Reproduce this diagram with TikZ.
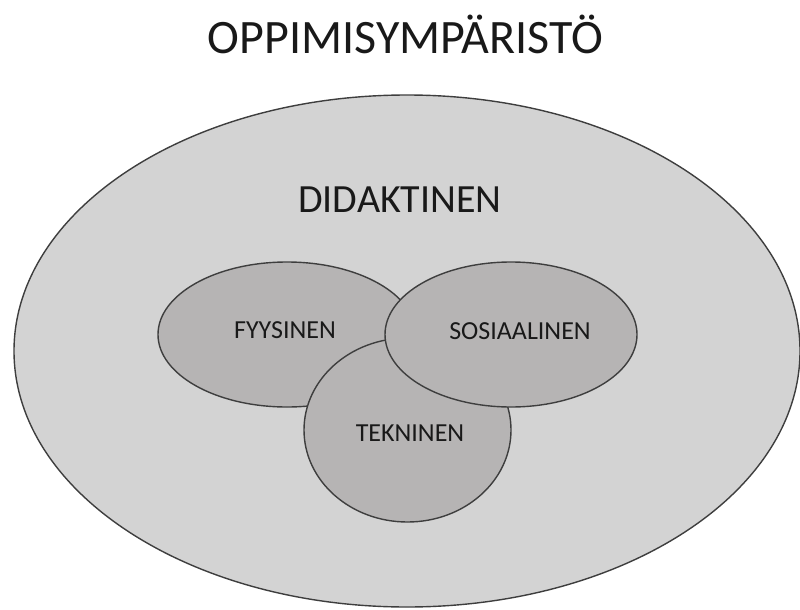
\documentclass[tikz,border=0pt]{standalone}
\usepackage{fontspec}
\setmainfont{Carlito}
\usetikzlibrary{shapes.geometric}
\definecolor{outerfill}{RGB}{211,211,211}
\definecolor{innerfill}{RGB}{182,180,180}
\definecolor{rim}{RGB}{62,62,62}

\begin{document}
\begin{tikzpicture}[x=1pt, y=-1pt,
        area/.style={ellipse, draw=rim, line width=1.4pt, inner sep=0pt},
        whole/.style={area, fill=outerfill},
        part/.style={area, fill=innerfill},
        tag/.style={inner sep=0pt, anchor=base, text=black!90}
    ]
        \useasboundingbox (0,0) rectangle (800,610);

        % Areas
        \node[whole, minimum width=786pt, minimum height=512pt] (didaktinen) at (407,351) {};
        \node[part, minimum width=258pt, minimum height=145pt] (fyysinen) at (287,334.5) {};
        \node[part, minimum width=207pt, minimum height=184pt] (tekninen) at (407.5,430) {};
        \node[part, minimum width=252pt, minimum height=145pt] (sosiaalinen) at (511,334.5) {};

        % Texts
        \node[tag, font=\fontsize{48}{50}\selectfont] (otsikko) at (405.5,53) {OPPIMISYMPÄRISTÖ};
        \node[tag, font=\fontsize{40}{42}\selectfont] (didaktinenteksti) at (400,212) {DIDAKTINEN};
        \node[tag, font=\fontsize{26}{28}\selectfont] (fyysinenteksti) at (285,338) {FYYSINEN};
        \node[tag, font=\fontsize{26}{28}\selectfont] (sosiaalinenteksti) at (520,339) {SOSIAALINEN};
        \node[tag, font=\fontsize{26}{28}\selectfont] (tekninenteksti) at (410,441) {TEKNINEN};
    \end{tikzpicture}
\end{document}
